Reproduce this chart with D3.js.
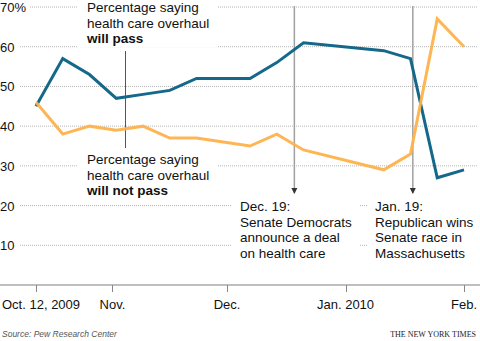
<!DOCTYPE html>
<html>
<head>
<meta charset="utf-8">
<script src="https://cdn.jsdelivr.net/npm/d3@7"></script>
<style>
	body { margin: 0; background: #fff; }
	text { font-family: "Liberation Sans", Arial, sans-serif; fill: #111; }
</style>
</head>
<body>
<script>
var width = 480,
	height = 341;

// weekly Pew polls
var dates = ['2009-10-12', '2009-10-19', '2009-10-26', '2009-11-02', '2009-11-09',
	'2009-11-16', '2009-11-23', '2009-11-30', '2009-12-07', '2009-12-14',
	'2009-12-21', '2010-01-11', '2010-01-18', '2010-01-25', '2010-02-01'];
var willPass    = [45, 57, 53, 47, 48, 49, 52, 52, 52, 56, 61, 59, 57, 27, 29];
var willNotPass = [46, 38, 40, 39, 40, 37, 37, 36, 35, 38, 34, 29, 33, 67, 60];

var yTicks = [10, 20, 30, 40, 50, 60, 70];
var xTicks = ['2009-10-12', '2009-11-01', '2009-12-01', '2010-01-01', '2010-02-01'];
var xTickLabels = ['Oct. 12, 2009', 'Nov.', 'Dec.', 'Jan. 2010', 'Feb.'];

var events = [
	{ date: '2009-12-19', lines: ['Dec. 19:', 'Senate Democrats', 'announce a deal', 'on health care'] },
	{ date: '2010-01-19', lines: ['Jan. 19:', 'Republican wins', 'Senate race in', 'Massachusetts'] }
];

var parse = d3.timeParse('%Y-%m-%d');

var x = d3.scaleTime()
	.domain([parse('2009-10-12'), parse('2010-02-01')])
	.range([36, 464]);

var y = d3.scaleLinear()
	.domain([0, 70])
	.range([285, 7]);

var svg = d3.select('body')
	.append('svg')
	.attr('width', width)
	.attr('height', height);

var gridLayer = svg.append('g');
var maskLayer = svg.append('g');
var lineLayer = svg.append('g');
var textLayer = svg.append('g');

// dotted gridlines
gridLayer.selectAll('line')
	.data(yTicks)
	.enter()
	.append('line')
	.attr('x1', 20)
	.attr('x2', 477)
	.attr('y1', function(d) { return y(d); })
	.attr('y2', function(d) { return y(d); })
	.attr('stroke', '#b4b4b4')
	.attr('stroke-width', 1)
	.attr('stroke-dasharray', '1,1');

// baseline + ticks
svg.append('line')
	.attr('x1', 0)
	.attr('x2', width)
	.attr('y1', y(0))
	.attr('y2', y(0))
	.attr('stroke', '#aaa')
	.attr('stroke-width', 1.5);

svg.selectAll('.xtick')
	.data(xTicks)
	.enter()
	.append('line')
	.attr('class', 'xtick')
	.attr('x1', function(d) { return Math.round(x(parse(d))) + 0.5; })
	.attr('x2', function(d) { return Math.round(x(parse(d))) + 0.5; })
	.attr('y1', y(0))
	.attr('y2', y(0) + 7)
	.attr('stroke', '#888')
	.attr('stroke-width', 1);

svg.selectAll('.xlabel')
	.data(xTicks)
	.enter()
	.append('text')
	.attr('class', 'xlabel')
	.attr('x', function(d, i) { return i == 0 ? 2 : x(parse(d)); })
	.attr('y', 309)
	.attr('text-anchor', function(d, i) { return i == 0 ? 'start' : 'middle'; })
	.style('font-size', '13px')
	.text(function(d, i) { return xTickLabels[i]; });

// y labels, white box knocks the grid out behind them
var ylab = textLayer.selectAll('.ylabel')
	.data(yTicks)
	.enter()
	.append('text')
	.attr('class', 'ylabel')
	.attr('x', 0)
	.attr('y', function(d) { return y(d) + 5; })
	.style('font-size', '13px')
	.text(function(d) { return d == 70 ? '70%' : d; });

ylab.each(function() {
	var b = this.getBBox();
	maskLayer.append('rect')
		.attr('x', b.x)
		.attr('y', b.y)
		.attr('width', b.width + 3)
		.attr('height', b.height)
		.attr('fill', '#fff');
});

// event markers with arrows
svg.append('defs')
	.append('marker')
	.attr('id', 'arrow')
	.attr('viewBox', '0 0 10 10')
	.attr('refX', 5)
	.attr('refY', 10)
	.attr('markerWidth', 5)
	.attr('markerHeight', 5)
	.attr('markerUnits', 'userSpaceOnUse')
	.attr('orient', 'auto-start-reverse')
	.append('path')
	.attr('d', 'M0,0L10,0L5,10Z')
	.attr('fill', '#333');

lineLayer.selectAll('.event')
	.data(events)
	.enter()
	.append('line')
	.attr('class', 'event')
	.attr('x1', function(d) { return x(parse(d.date)) - 1.5; })
	.attr('x2', function(d) { return x(parse(d.date)) - 1.5; })
	.attr('y1', 6)
	.attr('y2', 193)
	.attr('stroke', '#a0a0a0')
	.attr('stroke-width', 1.5);

lineLayer.selectAll('.arrow')
	.data(events)
	.enter()
	.append('path')
	.attr('class', 'arrow')
	.attr('d', function(d) {
		var cx = x(parse(d.date)) - 1.5;
		return 'M' + (cx - 3) + ',188L' + (cx + 3) + ',188L' + cx + ',194Z';
	})
	.attr('fill', '#333');

// pointer from the labels
lineLayer.append('line')
	.attr('x1', 125.5)
	.attr('x2', 125.5)
	.attr('y1', 51)
	.attr('y2', 148)
	.attr('stroke', '#555')
	.attr('stroke-width', 1);

var line = d3.line()
	.x(function(d, i) { return x(parse(dates[i])); })
	.y(function(d) { return y(d); });

lineLayer.append('path')
	.datum(willPass)
	.attr('d', line)
	.attr('fill', 'none')
	.attr('stroke', '#14698a')
	.attr('stroke-width', 3)
	.attr('stroke-linejoin', 'miter');

lineLayer.append('path')
	.datum(willNotPass)
	.attr('d', line)
	.attr('fill', 'none')
	.attr('stroke', '#fdb24a')
	.attr('stroke-width', 3)
	.attr('stroke-linejoin', 'miter')
	.attr('opacity', 0.95);

// multi-line labels; each gets a white backing box over the grid
function block(x0, y0, lines, boldLast) {
	var g = textLayer.append('g');
	g.selectAll('text')
		.data(lines)
		.enter()
		.append('text')
		.attr('x', x0)
		.attr('y', function(d, i) { return y0 + i * 15.7; })
		.style('font-size', '13.5px')
		.style('font-weight', function(d, i) { return boldLast && i == lines.length - 1 ? 'bold' : 'normal'; })
		.text(function(d) { return d; });
	var b = g.node().getBBox();
	maskLayer.append('rect')
		.attr('x', b.x - 8)
		.attr('y', b.y - 1)
		.attr('width', b.width + 16)
		.attr('height', b.height + 2)
		.attr('fill', '#fff');
}

block(87, 12, ['Percentage saying', 'health care overhaul', 'will pass'], true);
block(87, 164, ['Percentage saying', 'health care overhaul', 'will not pass'], true);

events.forEach(function(e, i) {
	block(i == 0 ? 240 : 375, 211, e.lines, false);
});

// footer
svg.append('text')
	.attr('x', 2)
	.attr('y', 337)
	.style('font-size', '8.5px')
	.style('font-style', 'italic')
	.style('fill', '#555')
	.text('Source: Pew Research Center');

svg.append('text')
	.attr('x', 476)
	.attr('y', 337)
	.attr('text-anchor', 'end')
	.style('font-family', '"Liberation Serif", "DejaVu Serif", serif')
	.style('font-size', '8px')
	.style('fill', '#222')
	.text('THE NEW YORK TIMES');
</script>
</body>
</html>
